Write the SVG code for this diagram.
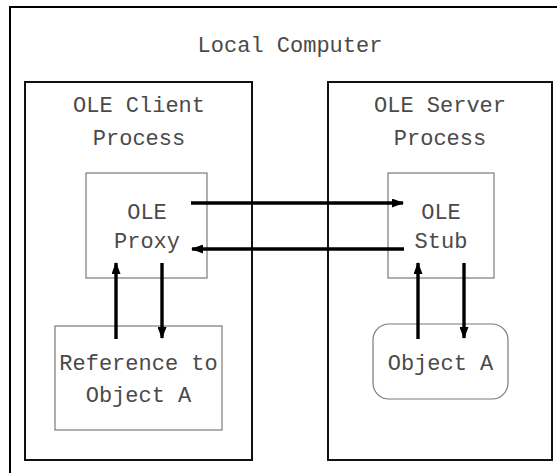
<svg xmlns="http://www.w3.org/2000/svg" width="557" height="473" viewBox="0 0 557 473">
  <style>
    .outer { fill: none; stroke: #000; stroke-width: 2; }
    .proc { fill: none; stroke: #111; stroke-width: 2; }
    .inner { fill: #fff; stroke: #7a7a7a; stroke-width: 1.2; }
    .lbl { font-family: "Liberation Mono", "Courier New", monospace; font-size: 22px; fill: #4a4a4a; text-anchor: middle; }
    .wire { stroke: #000; stroke-width: 3.4; fill: none; }
  </style>
  <defs>
    <marker id="head" viewBox="0 0 12 9" refX="11" refY="4.5" markerWidth="12" markerHeight="9" markerUnits="userSpaceOnUse" orient="auto">
      <path d="M0,0 L12,4.5 L0,9 z" fill="#000"/>
    </marker>
  </defs>

  <rect width="557" height="473" fill="#fff"/>

  <g id="local-computer">
    <rect class="outer" x="10" y="7" width="560" height="480"/>
    <text class="lbl" x="290" y="52">Local Computer</text>
  </g>

  <g id="client-process">
    <rect class="proc" x="25" y="82" width="227" height="378"/>
    <text class="lbl" x="139" y="112">OLE Client</text>
    <text class="lbl" x="139" y="145">Process</text>
  </g>

  <g id="server-process">
    <rect class="proc" x="328" y="82" width="224" height="378"/>
    <text class="lbl" x="440" y="112">OLE Server</text>
    <text class="lbl" x="440" y="145">Process</text>
  </g>

  <g id="ole-proxy">
    <rect class="inner" x="86" y="173" width="121" height="105"/>
    <text class="lbl" x="147" y="219">OLE</text>
    <text class="lbl" x="147" y="248">Proxy</text>
  </g>

  <g id="ole-stub">
    <rect class="inner" x="388" y="173" width="106" height="105"/>
    <text class="lbl" x="441" y="219">OLE</text>
    <text class="lbl" x="441" y="248">Stub</text>
  </g>

  <g id="reference">
    <rect class="inner" x="55" y="326" width="167" height="104"/>
    <text class="lbl" x="138.5" y="370">Reference to</text>
    <text class="lbl" x="138.5" y="402">Object A</text>
  </g>

  <g id="object-a">
    <rect class="inner" x="373" y="324" width="135" height="75" rx="16" ry="16"/>
    <text class="lbl" x="440.5" y="370">Object A</text>
  </g>

  <g id="connectors">
    <line class="wire" x1="191" y1="203" x2="403" y2="203" marker-end="url(#head)"/>
    <line class="wire" x1="404" y1="249" x2="192" y2="249" marker-end="url(#head)"/>
    <line class="wire" x1="116" y1="339" x2="116" y2="263" marker-end="url(#head)"/>
    <line class="wire" x1="162" y1="263" x2="162" y2="338" marker-end="url(#head)"/>
    <line class="wire" x1="418" y1="339" x2="418" y2="263" marker-end="url(#head)"/>
    <line class="wire" x1="464" y1="263" x2="464" y2="338" marker-end="url(#head)"/>
  </g>
</svg>
